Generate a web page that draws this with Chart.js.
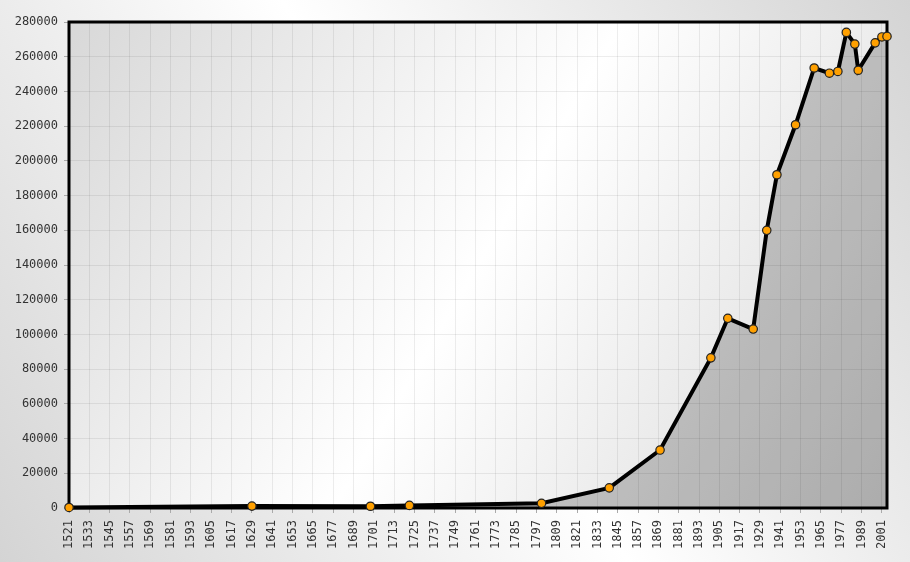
<!DOCTYPE html>
<html>
<head>
<meta charset="utf-8">
<script src="https://cdn.jsdelivr.net/npm/chart.js@4/dist/chart.umd.min.js"></script>
<style>
  html, body { margin: 0; padding: 0; background: #fff; }
  #wrap { width: 910px; height: 562px; }
</style>
</head>
<body>
<div id="wrap"><canvas id="popChart" width="910" height="562"></canvas></div>
<script>
// Population over time
const years = [1521, 1629, 1699, 1722, 1800, 1840, 1870, 1900, 1910, 1925, 1933, 1939,
    1950, 1961, 1970, 1975, 1980, 1985, 1987, 1997, 2001, 2004];
const population = [300, 1100, 1000, 1500, 2700, 11600, 33400, 86500, 109300, 103100, 160000, 192000,
    220800, 253500, 250500, 251500, 274000, 267300, 252200, 268000, 271400, 271700];

// Axis ticks
const tickYears = [1521, 1533, 1545, 1557, 1569, 1581, 1593, 1605, 1617, 1629, 1641, 1653,
    1665, 1677, 1689, 1701, 1713, 1725, 1737, 1749, 1761, 1773, 1785, 1797, 1809, 1821,
    1833, 1845, 1857, 1869, 1881, 1893, 1905, 1917, 1929, 1941, 1953, 1965, 1977, 1989, 2001];
const yTicks = [0, 20000, 40000, 60000, 80000, 100000, 120000, 140000, 160000, 180000,
    200000, 220000, 240000, 260000, 280000];

// Background gradients: page and plot area
const backgroundPlugin = {
    id: 'backgrounds',
    beforeDraw(chart) {
        const ctx = chart.ctx;
        const w = chart.width, h = chart.height;
        const a = chart.chartArea;
        ctx.save();
        let g = ctx.createLinearGradient(w, 0, 0, h);
        g.addColorStop(0, '#d4d4d4');
        g.addColorStop(0.5, '#ffffff');
        g.addColorStop(1, '#d4d4d4');
        ctx.fillStyle = g;
        ctx.fillRect(0, 0, w, h);

        g = ctx.createLinearGradient(a.left, a.top, a.right, a.bottom);
        g.addColorStop(0, '#d8d8d8');
        g.addColorStop(0.5, '#ffffff');
        g.addColorStop(1, '#d8d8d8');
        ctx.fillStyle = g;
        ctx.fillRect(a.left, a.top, a.right - a.left, a.bottom - a.top);
        ctx.restore();
    },
    beforeDatasetsDraw(chart) {
        // black frame round the plot
        const ctx = chart.ctx;
        const a = chart.chartArea;
        ctx.save();
        ctx.strokeStyle = '#000';
        ctx.lineWidth = 3;
        ctx.strokeRect(a.left, a.top, a.right - a.left, a.bottom - a.top);
        ctx.restore();
    }
};

const tickFont = { family: 'DejaVu Sans Mono', size: 12 };

new Chart(document.getElementById('popChart'), {
    type: 'line',
    data: {
        datasets: [{
            data: years.map((y, i) => ({ x: y, y: population[i] })),
            borderColor: '#000',
            borderWidth: 4,
            backgroundColor: 'rgba(0, 0, 0, 0.2)',
            fill: 'origin',
            tension: 0,
            pointRadius: 4.2,
            pointHoverRadius: 4.2,
            pointBackgroundColor: '#ffa000',
            pointBorderColor: '#222',
            pointBorderWidth: 1.2,
            clip: false
        }]
    },
    options: {
        responsive: false,
        animation: false,
        devicePixelRatio: 1,
        layout: { padding: { left: 0, top: 22, right: 23, bottom: 0 } },
        plugins: {
            legend: { display: false },
            tooltip: { enabled: false }
        },
        scales: {
            x: {
                type: 'linear',
                min: 1521,
                max: 2004,
                afterBuildTicks: scale => { scale.ticks = tickYears.map(v => ({ value: v })); },
                afterFit: scale => { scale.height = 54; },
                ticks: {
                    autoSkip: false,
                    minRotation: 90,
                    maxRotation: 90,
                    padding: 7,
                    color: '#333',
                    font: tickFont,
                    callback: v => String(v)
                },
                grid: { color: 'rgba(0, 0, 0, 0.07)', tickColor: '#aaa', tickLength: 5 },
                border: { display: false }
            },
            y: {
                min: 0,
                max: 280000,
                afterBuildTicks: scale => { scale.ticks = yTicks.map(v => ({ value: v })); },
                afterFit: scale => { scale.width = 69; },
                ticks: {
                    padding: 6,
                    color: '#333',
                    font: tickFont,
                    callback: v => String(v)
                },
                grid: { color: 'rgba(0, 0, 0, 0.07)', tickColor: '#aaa', tickLength: 5 },
                border: { display: false }
            }
        }
    },
    plugins: [backgroundPlugin]
});
</script>
</body>
</html>
